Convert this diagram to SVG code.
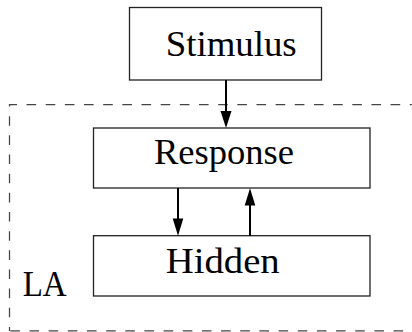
<svg xmlns="http://www.w3.org/2000/svg" width="412" height="332" viewBox="0 0 412 332">
<style>
.box{fill:#fff;stroke:#222;stroke-width:1.3}
.lbl{font-family:"Liberation Serif","Times New Roman",serif;font-size:35px;fill:#000}
.edge{stroke:#000;stroke-width:2;fill:none}
.dash{stroke:#444;stroke-width:1.25;fill:none;stroke-dasharray:9.58 9.58}
.head{fill:#000}
</style>
<rect width="412" height="332" fill="#fff"/>
<g id="LA">
<path class="dash" d="M9.5,331 V104.5 H420" style="stroke-dashoffset:5.52"/>
<path class="dash" d="M9.5,330.8 H420" style="stroke-dashoffset:18.32"/>
<text class="lbl" x="22.7" y="296" textLength="44" lengthAdjust="spacingAndGlyphs">LA</text>
</g>
<g id="Stimulus">
<rect class="box" x="129.5" y="7.5" width="192" height="72.5"/>
<text class="lbl" x="165.7" y="56" textLength="131" lengthAdjust="spacingAndGlyphs">Stimulus</text>
</g>
<g id="Response">
<rect class="box" x="93.5" y="128" width="276.5" height="60"/>
<text class="lbl" x="154" y="164.3" textLength="140" lengthAdjust="spacingAndGlyphs">Response</text>
</g>
<g id="Hidden">
<rect class="box" x="93.5" y="235.7" width="276.5" height="60.3"/>
<text class="lbl" x="165.7" y="272.7" textLength="114" lengthAdjust="spacingAndGlyphs">Hidden</text>
</g>
<g id="connectors">
<line class="edge" x1="226" y1="80" x2="226" y2="114"/>
<path class="head" d="M220.5,111 L231.5,111 L226,128 Z"/>
<line class="edge" x1="178" y1="188" x2="178" y2="222"/>
<path class="head" d="M172.7,218.5 L183.3,218.5 L178,235.7 Z"/>
<line class="edge" x1="250" y1="235.7" x2="250" y2="202"/>
<path class="head" d="M244.7,205.5 L255.3,205.5 L250,188.3 Z"/>
</g>
</svg>
